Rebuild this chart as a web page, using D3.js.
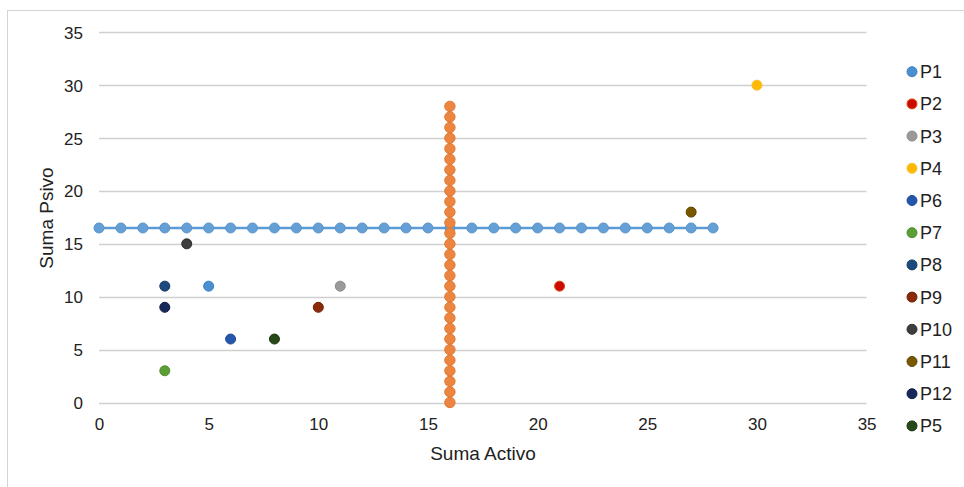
<!DOCTYPE html>
<html>
<head>
<meta charset="utf-8">
<script src="https://cdn.jsdelivr.net/npm/d3@7/dist/d3.min.js"></script>
<style>
  html, body { margin: 0; padding: 0; background: #fff; }
  svg { display: block; font-family: "Liberation Sans", Arial, sans-serif; }
</style>
</head>
<body>
<svg id="chart" width="964" height="487"></svg>
<script>
// Horizontal reference series (Suma Psivo = 16.5 across Activo 0..28)
const hLineX = [0,1,2,3,4,5,6,7,8,9,10,11,12,13,14,15,16,17,18,19,20,21,22,23,24,25,26,27,28];
const hLineY = [16.5,16.5,16.5,16.5,16.5,16.5,16.5,16.5,16.5,16.5,16.5,16.5,16.5,16.5,16.5,16.5,16.5,16.5,16.5,16.5,16.5,16.5,16.5,16.5,16.5,16.5,16.5,16.5,16.5];

// Vertical reference series (Suma Activo = 16 across Psivo 0..28)
const vLineX = [16,16,16,16,16,16,16,16,16,16,16,16,16,16,16,16,16,16,16,16,16,16,16,16,16,16,16,16,16];
const vLineY = [0,1,2,3,4,5,6,7,8,9,10,11,12,13,14,15,16,17,18,19,20,21,22,23,24,25,26,27,28];

// Individual points
const pointNames  = ["P1","P2","P3","P4","P6","P7","P8","P9","P10","P11","P12","P5"];
const pointActivo = [5, 21, 11, 30, 6, 3, 3, 10, 4, 27, 3, 8];
const pointPsivo  = [11, 11, 11, 30, 6, 3, 11, 9, 15, 18, 9, 6];
const pointColors = ["#4a8fd0","#cc0a00","#9a9a9a","#ffb900","#2457ab","#5b9e35","#1d4a7c","#8a2a06","#3e3e3e","#7a5800","#17285a","#27491a"];
const pointStroke = ["#3d7fbf","#e04a10","#8c8c8c","#f5c030","#1c4a96","#4f8c2c","#173c66","#6e1f02","#2c2c2c","#5e4400","#101e44","#1b3511"];

// Axis ticks
const xTicks = [0,5,10,15,20,25,30,35];
const yTicks = [0,5,10,15,20,25,30,35];

const svg = d3.select("#chart");

// chart frame
svg.append("rect")
  .attr("x", 7.5).attr("y", 10.5)
  .attr("width", 1000).attr("height", 1000)
  .attr("fill", "none").attr("stroke", "#d4d4d4").attr("stroke-width", 1);

const x = d3.scaleLinear().domain([0, 35]).range([99, 866.6]);
const y = d3.scaleLinear().domain([0, 35]).range([402.5, 32.3]);

// horizontal gridlines
svg.append("g").selectAll("line").data(yTicks).join("line")
  .attr("x1", x(0)).attr("x2", x(35))
  .attr("y1", d => Math.round(y(d)) + 0.5).attr("y2", d => Math.round(y(d)) + 0.5)
  .attr("stroke", "#d0d0d0").attr("stroke-width", 1.3);

// y axis labels
const yAxis = d3.axisLeft(y).tickValues(yTicks).tickSize(0).tickPadding(0);
svg.append("g").attr("transform", "translate(83,0)").call(yAxis)
  .call(g => g.select(".domain").remove())
  .selectAll("text")
  .attr("font-size", 17).attr("fill", "#222").attr("dy", "0.35em")
  .attr("font-family", "Liberation Sans, Arial, sans-serif");

// x axis labels
const xAxis = d3.axisBottom(x).tickValues(xTicks).tickSize(0).tickPadding(0);
svg.append("g").attr("transform", "translate(0,418)").call(xAxis)
  .call(g => g.select(".domain").remove())
  .selectAll("text")
  .attr("font-size", 17).attr("fill", "#222")
  .attr("font-family", "Liberation Sans, Arial, sans-serif");

// axis titles
svg.append("text")
  .attr("x", 483).attr("y", 460)
  .attr("text-anchor", "middle").attr("font-size", 19).attr("fill", "#222")
  .text("Suma Activo");
svg.append("text")
  .attr("transform", "translate(53,218) rotate(-90)")
  .attr("text-anchor", "middle").attr("font-size", 19).attr("fill", "#222")
  .text("Suma Psivo");

// horizontal series
const hData = hLineX.map((v, i) => [v, hLineY[i]]);
const line = d3.line().x(d => x(d[0])).y(d => y(d[1]));
svg.append("path").datum(hData)
  .attr("d", line).attr("fill", "none")
  .attr("stroke", "#5b9bd5").attr("stroke-width", 2.6);
svg.append("g").selectAll("circle").data(hData).join("circle")
  .attr("cx", d => x(d[0])).attr("cy", d => y(d[1])).attr("r", 5)
  .attr("fill", "#64a0d6").attr("stroke", "#5a95cc").attr("stroke-width", 1);

// vertical series
const vData = vLineX.map((v, i) => [v, vLineY[i]]);
svg.append("path").datum(vData)
  .attr("d", line).attr("fill", "none")
  .attr("stroke", "#ed7d31").attr("stroke-width", 2.6);
svg.append("g").selectAll("circle").data(vData).join("circle")
  .attr("cx", d => x(d[0])).attr("cy", d => y(d[1])).attr("r", 5.2)
  .attr("fill", "#ec8540").attr("stroke", "#e07a35").attr("stroke-width", 1);

// individual points
const pts = pointNames.map((n, i) => ({ name: n, ax: pointActivo[i], py: pointPsivo[i], c: pointColors[i], s: pointStroke[i] }));
svg.append("g").selectAll("circle").data(pts).join("circle")
  .attr("cx", d => x(d.ax)).attr("cy", d => y(d.py)).attr("r", 5)
  .attr("fill", d => d.c).attr("stroke", d => d.s).attr("stroke-width", 1);

// legend
const legend = svg.append("g").attr("transform", "translate(912,71.7)");
const rows = legend.selectAll("g").data(pts).join("g")
  .attr("transform", (d, i) => `translate(0,${i * 32.2})`);
rows.append("circle").attr("r", 5)
  .attr("fill", d => d.c).attr("stroke", d => d.s).attr("stroke-width", 1);
rows.append("text").attr("x", 8).attr("dy", "0.36em")
  .attr("font-size", 18).attr("fill", "#222")
  .text(d => d.name);
</script>
</body>
</html>
